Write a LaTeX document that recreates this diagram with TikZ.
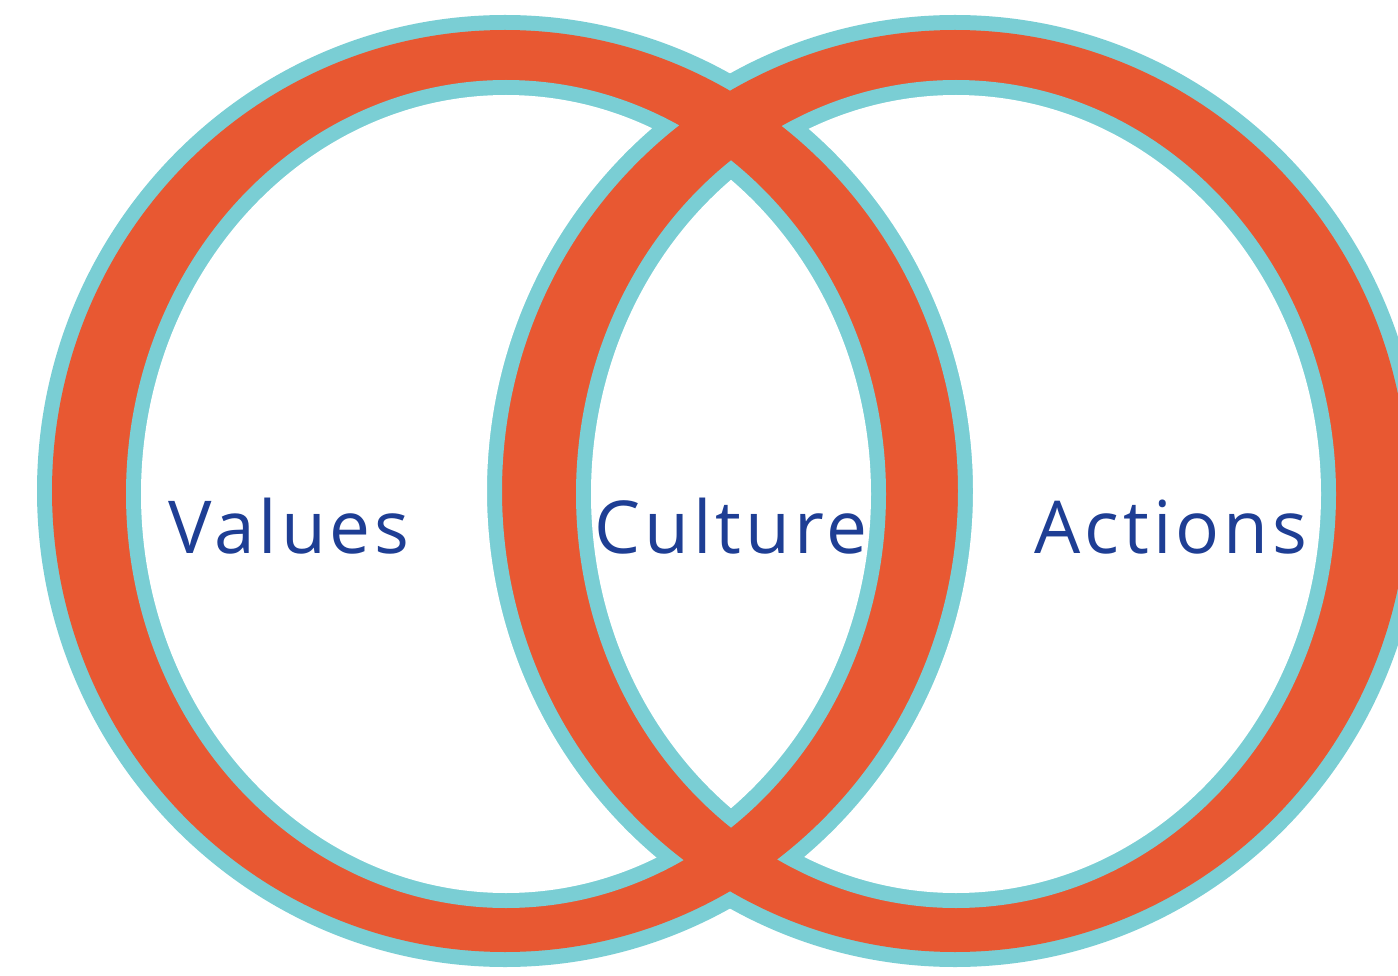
\documentclass[tikz,border=0pt]{standalone}
\usepackage{fontspec}
\setmainfont{Open Sans}
\newfontfamily\lblfont[LetterSpace=5.5]{Open Sans}
\definecolor{ringorange}{RGB}{232,88,50}
\definecolor{ringteal}{RGB}{122,206,212}
\definecolor{labelblue}{RGB}{30,62,148}
\tikzset{
  lbl/.style={anchor=base, inner sep=0pt, text=labelblue, font=\lblfont\fontsize{73}{80}\selectfont},
  outerT/.style={x radius=468, y radius=476},
  outerO/.style={x radius=453, y radius=461},
  innerO/.style={x radius=380, y radius=414},
  innerW/.style={x radius=365, y radius=399}
}
\begin{document}
\begin{tikzpicture}[x=1pt,y=-1pt]
\useasboundingbox (0,0) rectangle (1398,976);
\fill[white] (0,0) rectangle (1398,976);
\coordinate (L) at (505,491);
\coordinate (R) at (955,491);
\coordinate (Li) at (506,494);
\coordinate (Ri) at (956,494);
% outer rings
\fill[ringteal] (L) ellipse [outerT];
\fill[ringteal] (R) ellipse [outerT];
\fill[ringorange] (L) ellipse [outerO];
\fill[ringorange] (R) ellipse [outerO];
% left hole
\begin{scope}
  \clip (Li) ellipse [innerO];
  \fill[ringteal, even odd rule] (-200,-200) rectangle (1600,1200) (R) ellipse [outerO];
  \clip (Li) ellipse [innerW];
  \fill[white, even odd rule] (-200,-200) rectangle (1600,1200) (R) ellipse [outerT];
\end{scope}
% right hole
\begin{scope}
  \clip (Ri) ellipse [innerO];
  \fill[ringteal, even odd rule] (-200,-200) rectangle (1600,1200) (L) ellipse [outerO];
  \clip (Ri) ellipse [innerW];
  \fill[white, even odd rule] (-200,-200) rectangle (1600,1200) (L) ellipse [outerT];
\end{scope}
% lens
\begin{scope}
  \clip (Li) ellipse [innerO];
  \clip (Ri) ellipse [innerO];
  \fill[ringteal] (-200,-200) rectangle (1600,1200);
  \clip (Li) ellipse [innerW];
  \clip (Ri) ellipse [innerW];
  \fill[white] (-200,-200) rectangle (1600,1200);
\end{scope}
\node[lbl] (values) at (289,553) {Values};
\node[lbl] (culture) at (731,553) {Culture};
\node[lbl] (actions) at (1171,553) {Actions};
\end{tikzpicture}
\end{document}
